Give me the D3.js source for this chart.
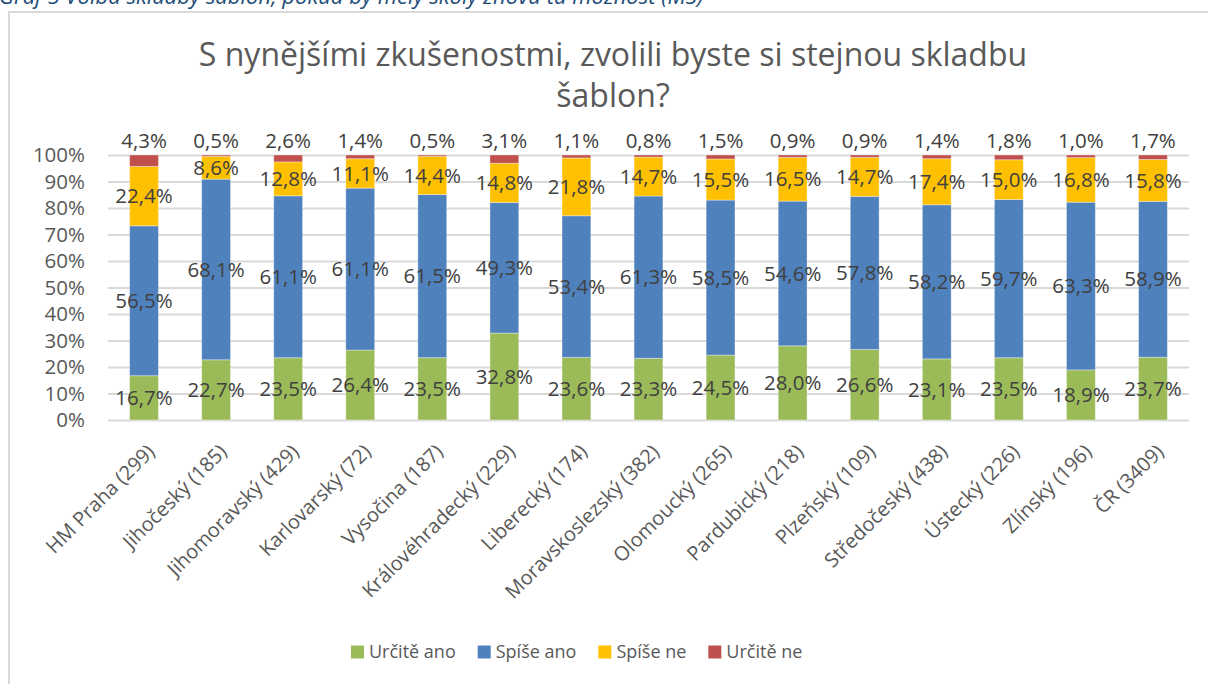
<!DOCTYPE html>
<html>
<head>
<meta charset="utf-8">
<script src="https://cdn.jsdelivr.net/npm/d3@7"></script>
<style>
  body { margin: 0; background: #fff; }
  svg { display: block; font-family: "Open Sans", sans-serif; }
</style>
</head>
<body>
<div id="chart"></div>
<script>
// data
var regions = ["HM Praha (299)", "Jihočeský (185)", "Jihomoravský (429)", "Karlovarský (72)", "Vysočina (187)",
    "Královéhradecký (229)", "Liberecký (174)", "Moravskoslezský (382)", "Olomoucký (265)", "Pardubický (218)",
    "Plzeňský (109)", "Středočeský (438)", "Ústecký (226)", "Zlínský (196)", "ČR (3409)"];
var seriesNames = ["Určitě ano", "Spíše ano", "Spíše ne", "Určitě ne"];
var urciteAno = [16.7, 22.7, 23.5, 26.4, 23.5, 32.8, 23.6, 23.3, 24.5, 28.0, 26.6, 23.1, 23.5, 18.9, 23.7];
var spiseAno = [56.5, 68.1, 61.1, 61.1, 61.5, 49.3, 53.4, 61.3, 58.5, 54.6, 57.8, 58.2, 59.7, 63.3, 58.9];
var spiseNe = [22.4, 8.6, 12.8, 11.1, 14.4, 14.8, 21.8, 14.7, 15.5, 16.5, 14.7, 17.4, 15.0, 16.8, 15.8];
var urciteNe = [4.3, 0.5, 2.6, 1.4, 0.5, 3.1, 1.1, 0.8, 1.5, 0.9, 0.9, 1.4, 1.8, 1.0, 1.7];
var yTicks = [0, 0.1, 0.2, 0.3, 0.4, 0.5, 0.6, 0.7, 0.8, 0.9, 1];
var colors = ["#9BBB59", "#4F81BD", "#FFC000", "#C0504D"];

var width = 1208, height = 684;
var margin = { top: 155, right: 19, bottom: 264, left: 108 };

var svg = d3.select("#chart").append("svg")
    .attr("width", width)
    .attr("height", height);

// caption above the chart (cut off at the top, like in the source)
svg.append("text")
    .attr("x", -1)
    .attr("y", 4)
    .attr("fill", "#1F4E79")
    .style("font-style", "italic")
    .style("font-size", "22px")
    .text("Graf 5 Volba skladby šablon, pokud by měly školy znovu tu možnost (MŠ)");

// chart frame
svg.append("rect")
    .attr("x", 9)
    .attr("y", 12)
    .attr("width", 1400)
    .attr("height", 900)
    .attr("fill", "none")
    .attr("stroke", "#D9D9D9")
    .attr("stroke-width", 2);

// title
var title = svg.append("text")
    .attr("text-anchor", "middle")
    .attr("fill", "#595959")
    .style("font-size", "32px");
title.append("tspan").attr("x", 613).attr("y", 66).text("S nynějšími zkušenostmi, zvolili byste si stejnou skladbu");
title.append("tspan").attr("x", 613).attr("y", 107).text("šablon?");

var rows = regions.map(function (r, i) {
    return { region: r, 0: urciteAno[i], 1: spiseAno[i], 2: spiseNe[i], 3: urciteNe[i] };
});
var stack = d3.stack().keys([0, 1, 2, 3]).offset(d3.stackOffsetExpand);
var layers = stack(rows);

var x = d3.scaleBand()
    .domain(regions)
    .range([margin.left, width - margin.right])
    .paddingInner(0.6)
    .paddingOuter(0.3);

var y = d3.scaleLinear()
    .domain([0, 1])
    .range([height - margin.bottom, margin.top]);

// gridlines + y axis
var yAxis = svg.append("g")
    .attr("transform", `translate(${margin.left},0)`)
    .call(d3.axisLeft(y).tickValues(yTicks).tickFormat(d3.format(".0%")).tickSize(-(width - margin.left - margin.right)).tickPadding(23));
yAxis.select(".domain").remove();
yAxis.selectAll("line").attr("stroke", "#D9D9D9").attr("stroke-width", 2);
yAxis.selectAll("text")
    .attr("fill", "#595959")
    .style("font-size", "20.5px")
    .style("font-family", "Open Sans, sans-serif");

// bars
var groups = svg.selectAll(".layer")
    .data(layers)
    .join("g")
    .attr("class", "layer")
    .attr("fill", function (d, i) { return colors[i]; });

groups.selectAll("rect")
    .data(function (d) { return d; })
    .join("rect")
    .attr("x", function (d) { return x(d.data.region); })
    .attr("y", function (d) { return y(d[1]); })
    .attr("width", x.bandwidth())
    .attr("height", function (d) { return y(d[0]) - y(d[1]); })
    .attr("stroke", "#ffffff")
    .attr("stroke-opacity", 0.35)
    .attr("stroke-width", 1);

// data labels
var fmt = function (v) { return d3.format(".1f")(v).replace(".", ",") + "%"; };
var labels = svg.append("g")
    .attr("text-anchor", "middle")
    .attr("fill", "#404040")
    .style("font-size", "20.5px");

layers.forEach(function (layer, k) {
    var vals = [urciteAno, spiseAno, spiseNe, urciteNe][k];
    labels.selectAll(".lab" + k)
        .data(layer)
        .join("text")
        .attr("class", "lab" + k)
        .attr("x", function (d) { return x(d.data.region) + x.bandwidth() / 2; })
        .attr("y", function (d) {
            if (k == 3) return y(1) - 7;
            return y((d[0] + d[1]) / 2);
        })
        .attr("dy", k == 3 ? "0" : "0.35em")
        .text(function (d, i) { return fmt(vals[i]); });
});

// category labels, rotated
svg.append("g")
    .selectAll("text")
    .data(regions)
    .join("text")
    .attr("transform", function (d) {
        return `translate(${x(d) + x.bandwidth() / 2 + 7},${height - margin.bottom + 28}) rotate(-45)`;
    })
    .attr("text-anchor", "end")
    .attr("dy", "0.35em")
    .attr("fill", "#595959")
    .style("font-size", "20px")
    .text(function (d) { return d; });

// legend
var legend = svg.append("g").attr("transform", "translate(351,652)");
var lx = 0;
seriesNames.forEach(function (name, i) {
    var item = legend.append("g").attr("transform", `translate(${lx},0)`);
    item.append("rect")
        .attr("x", 0).attr("y", -6.5)
        .attr("width", 13).attr("height", 13)
        .attr("fill", colors[i]);
    var t = item.append("text")
        .attr("x", 18)
        .attr("dy", "0.35em")
        .attr("fill", "#595959")
        .style("font-size", "18px")
        .text(name);
    lx += 18 + t.node().getComputedTextLength() + 22;
});
</script>
</body>
</html>
